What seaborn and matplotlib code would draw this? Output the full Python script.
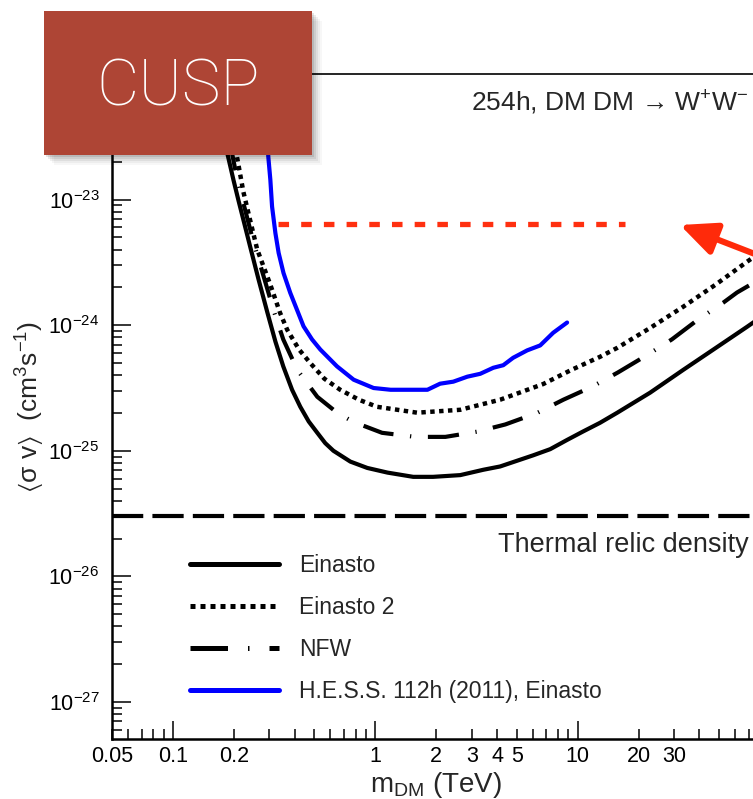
import numpy as np
import pandas as pd
import matplotlib
matplotlib.use("Agg")
import matplotlib.pyplot as plt
import seaborn as sns
from matplotlib.ticker import LogLocator, FuncFormatter, LogFormatterMathtext, NullFormatter
from matplotlib.patches import Rectangle, FancyArrowPatch
from matplotlib.lines import Line2D

# ---------------- data ----------------
einasto_m = [0.185, 0.199, 0.211, 0.224, 0.241, 0.265, 0.293, 0.321, 0.351, 0.388, 0.426, 0.469, 0.517,
             0.566, 0.621, 0.753, 0.913, 1.15, 1.54, 1.93, 2.63, 3.42, 4.14, 6.03, 7.32, 8.87, 10.6, 12.9,
             15.7, 22.8, 33.2, 48.9, 68.7, 75]
einasto_sv = [2.4e-23, 1.44e-23, 9.8e-24, 6.7e-24, 4.2e-24, 2.31e-24, 1.26e-24, 7.4e-25, 4.7e-25, 3.06e-25,
              2.24e-25, 1.71e-25, 1.39e-25, 1.15e-25, 1.0e-25, 8.2e-26, 7.3e-26, 6.7e-26, 6.2e-26, 6.2e-26,
              6.4e-26, 7.06e-26, 7.5e-26, 9.2e-26, 1.03e-25, 1.22e-25, 1.42e-25, 1.67e-25, 2.01e-25,
              2.9e-25, 4.4e-25, 6.7e-25, 9.7e-25, 1.07e-24]

einasto2_m = [0.2, 0.223, 0.24, 0.261, 0.303, 0.338, 0.367, 0.42, 0.477, 0.56, 0.671, 0.83, 1.02, 1.61,
              2.63, 4.14, 6.76, 9.3, 12.9, 15.7, 22.8, 33.2, 48.0, 68.7, 75]
einasto2_sv = [3.0e-23, 1.15e-23, 7.0e-24, 4.0e-24, 2.1e-24, 1.26e-24, 9.2e-25, 6.4e-25, 5.0e-25, 3.75e-25,
               3.06e-25, 2.55e-25, 2.24e-25, 2.01e-25, 2.12e-25, 2.55e-25, 3.4e-25, 4.4e-25, 5.6e-25,
               6.6e-25, 9.5e-25, 1.40e-24, 2.1e-24, 3.2e-24, 3.53e-24]

nfw_m = [0.19, 0.208, 0.250, 0.317, 0.351, 0.412, 0.517, 0.65, 0.778, 1.08, 1.58, 2.22, 3.19, 4.39, 6.3,
         8.5, 11.8, 15.8, 22.1, 29.2, 39.4, 52.4, 61.3, 75]
nfw_sv = [3.0e-23, 1.44e-23, 4.6e-24, 1.26e-24, 7.7e-25, 4.4e-25, 2.69e-25, 2.0e-25, 1.70e-25, 1.39e-25,
          1.29e-25, 1.29e-25, 1.42e-25, 1.62e-25, 2.0e-25, 2.55e-25, 3.24e-25, 4.2e-25, 5.8e-25, 7.7e-25,
          1.11e-24, 1.51e-24, 1.82e-24, 2.2e-24]

hess_m = [0.29, 0.296, 0.303, 0.309, 0.321, 0.333, 0.352, 0.380, 0.410, 0.442, 0.487, 0.535, 0.647, 0.782,
          0.981, 1.19, 1.81, 2.09, 2.43, 2.85, 3.30, 3.83, 4.29, 4.80, 5.63, 6.53, 7.57, 8.87]
hess_sv = [5.0e-23, 2.2e-23, 1.44e-23, 8.8e-24, 5.4e-24, 3.76e-24, 2.6e-24, 1.81e-24, 1.33e-24, 9.8e-25,
           7.7e-25, 6.4e-25, 4.7e-25, 3.68e-25, 3.16e-25, 3.06e-25, 3.06e-25, 3.42e-25, 3.55e-25, 3.89e-25,
           4.1e-25, 4.58e-25, 4.8e-25, 5.5e-25, 6.3e-25, 6.9e-25, 8.7e-25, 1.05e-24]

red_level_m = [0.332, 17.2]
red_level_sv = [6.44e-24, 6.44e-24]

thermal_relic_sv = 3e-26

series_labels = ["Einasto", "Einasto 2", "NFW", "H.E.S.S. 112h (2011), Einasto"]
x_tick_labels = ["0.05", "0.1", "0.2", "1", "2", "3", "4", "5", "10", "20", "30"]

# ---------------- style ----------------
sns.set_style("ticks")
plt.rcParams["font.family"] = ["Liberation Sans", "DejaVu Sans"]
plt.rcParams["mathtext.fontset"] = "custom"
plt.rcParams["mathtext.rm"] = "Liberation Sans"
plt.rcParams["mathtext.it"] = "Liberation Sans:italic"
plt.rcParams["mathtext.bf"] = "Liberation Sans:bold"
plt.rcParams["mathtext.default"] = "regular"
plt.rcParams["axes.unicode_minus"] = False

fig = plt.figure(figsize=(7.53, 7.99), dpi=100)
ax = fig.add_axes([112 / 753, 60 / 799, 668 / 753, 665 / 799])
ax.set_xscale("log")
ax.set_yscale("log")
ax.set_xlim(0.05, 100)
ax.set_ylim(10 ** -27.295, 1e-22)

LW = 3.0
NFW_DASH = (0, (7.5, 4.0, 0.3, 4.0))
sns.lineplot(x=einasto_m, y=einasto_sv, ax=ax, color="black", lw=LW, sort=False, estimator=None)
sns.lineplot(x=einasto2_m, y=einasto2_sv, ax=ax, color="black", lw=3.2, sort=False, estimator=None,
             linestyle=(0, (1, 1)))
sns.lineplot(x=nfw_m, y=nfw_sv, ax=ax, color="black", lw=LW, sort=False, estimator=None,
             linestyle=NFW_DASH)
sns.lineplot(x=hess_m, y=hess_sv, ax=ax, color="#0000ff", lw=LW, sort=False, estimator=None)
sns.lineplot(x=red_level_m, y=red_level_sv, ax=ax, color="#ff3010", lw=3.8, sort=False, estimator=None,
             linestyle=(0, (2.0, 2.3)))
ax.axhline(thermal_relic_sv, color="black", lw=3.0, linestyle=(0, (7.5, 2.2)))

# ---------------- axes styling ----------------
for side in ["left", "bottom"]:
    ax.spines[side].set_linewidth(1.8)
ax.spines["top"].set_linewidth(1.2)
ax.spines["right"].set_linewidth(1.2)
for s in ax.spines.values():
    s.set_color("black")

ax.xaxis.set_major_locator(LogLocator(base=10, numticks=20))
ax.xaxis.set_minor_locator(LogLocator(base=10, subs=np.arange(2, 10), numticks=40))


def xfmt(v, pos):
    for lab in x_tick_labels:
        if abs(v - float(lab)) / float(lab) < 1e-6:
            return lab
    return ""


ax.xaxis.set_major_formatter(FuncFormatter(xfmt))
ax.xaxis.set_minor_formatter(FuncFormatter(xfmt))
ax.yaxis.set_major_locator(LogLocator(base=10, numticks=20))
ax.yaxis.set_minor_locator(LogLocator(base=10, subs=np.arange(2, 10), numticks=40))
ax.yaxis.set_major_formatter(LogFormatterMathtext())
ax.yaxis.set_minor_formatter(NullFormatter())

ax.tick_params(which="both", direction="in", top=False, right=False, width=1.1, colors="black",
               labelsize=15.5)
ax.tick_params(axis="y", which="major", length=14, pad=9)
ax.tick_params(axis="y", which="minor", length=7)
ax.tick_params(axis="x", which="major", length=13, pad=5)
ax.tick_params(axis="x", which="minor", length=7, pad=5)

ax.set_xlabel("m$_{DM}$ (TeV)", fontsize=20)
ax.set_ylabel(r"$\langle\sigma\ v\rangle$  (cm$^{3}$s$^{-1}$)", fontsize=19)
ax.xaxis.set_label_coords((436 - 112) / 668, -(770 - 739) / 665)
ax.yaxis.set_label_coords(-(112 - 47) / 668, 0.5)

ax.text(70, 5.9e-23, "254h, DM DM → W$^{+}$W$^{-}$", ha="right", va="center", fontsize=19)
ax.text(70, 1.78e-26, "Thermal relic density", ha="right", va="center", fontsize=19.5)

handles = [
    Line2D([], [], color="black", lw=3.6),
    Line2D([], [], color="black", lw=3.6, linestyle=(0, (1, 1))),
    Line2D([], [], color="black", lw=3.6, linestyle=NFW_DASH),
    Line2D([], [], color="#0000ff", lw=3.6),
]
ax.legend(handles, series_labels, loc="upper left", bbox_to_anchor=(190 / 753, 1 - 554 / 799),
          bbox_transform=fig.transFigure, frameon=False, fontsize=16.5, handlelength=3.9,
          handletextpad=0.85, labelspacing=0.83, borderpad=0, borderaxespad=0)

# ---------------- overlay annotations ----------------
W, H = 753.0, 799.0


def fx(p):
    return p / W


def fy(p):
    return 1 - p / H


for i, a in enumerate([0.10, 0.08, 0.06, 0.04, 0.03]):
    off = 2 + i * 2
    fig.patches.append(Rectangle((fx(44 + off), fy(155 + off)), 268 / W, 144 / H, transform=fig.transFigure,
                                 facecolor="black", alpha=a, edgecolor="none", zorder=5))
fig.patches.append(Rectangle((fx(44), fy(155)), 268 / W, 144 / H, transform=fig.transFigure,
                             facecolor="#ae4535", edgecolor="none", zorder=6))
fig.text(fx(178), fy(87), "CUSP", color="white", fontsize=47, ha="center", va="center",
         family=["Roboto", "DejaVu Sans"], fontweight="light", zorder=7)

arrow = FancyArrowPatch(posA=(fx(840), fy(287)), posB=(fx(680), fy(225)), transform=fig.transFigure,
                        arrowstyle="-|>,head_length=22,head_width=10", mutation_scale=1, lw=4.4,
                        color="#ff2a0a", shrinkA=0, shrinkB=0, zorder=8)
fig.patches.append(arrow)

fig.savefig("out.png", dpi=100)
